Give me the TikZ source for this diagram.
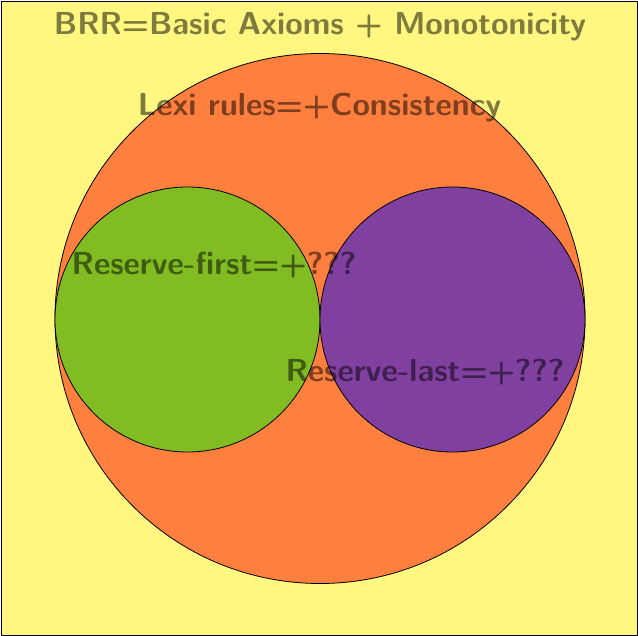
\documentclass[tikz,border=0pt]{standalone}
\usetikzlibrary{positioning}
\definecolor{bgyellow}{RGB}{255,247,128}
\definecolor{setorange}{RGB}{255,127,63}
\definecolor{setgreen}{RGB}{128,188,34}
\definecolor{setpurple}{RGB}{128,64,160}
\begin{document}
\begin{tikzpicture}[x=1pt,y=-1pt,
  setdisk/.style={circle, draw=black, line width=0.8pt, inner sep=0pt},
  label/.style={text=black, text opacity=0.5, font=\sffamily\bfseries\fontsize{#1}{#1}\selectfont,
    inner sep=0pt, anchor=base},
  label/.default=31.8]
  \useasboundingbox (0,0) rectangle (638,636);
  % universe of rules
  \node[draw=black, line width=0.8pt, fill=bgyellow, rectangle, minimum width=636pt,
        minimum height=634pt, inner sep=0pt] (universe) at (319,318) {};
  % nested families
  \node[setdisk, fill=setorange, minimum size=530pt] (lexi) at (320,318.5) {};
  \node[setdisk, fill=setgreen, minimum size=265pt] (first) at (187.5,319.5) {};
  \node[setdisk, fill=setpurple, minimum size=265pt] (last) at (452.5,319.5) {};
  % labels
  \node[label] (brrtext) at (320,35) {BRR=Basic Axioms + Monotonicity};
  \node[label] (lexitext) at (319.5,116) {Lexi rules=+Consistency};
  \node[label] (firsttext) at (214,275) {Reserve-first=+???};
  \node[label] (lasttext) at (425,381.7) {Reserve-last=+???};
\end{tikzpicture}
\end{document}
